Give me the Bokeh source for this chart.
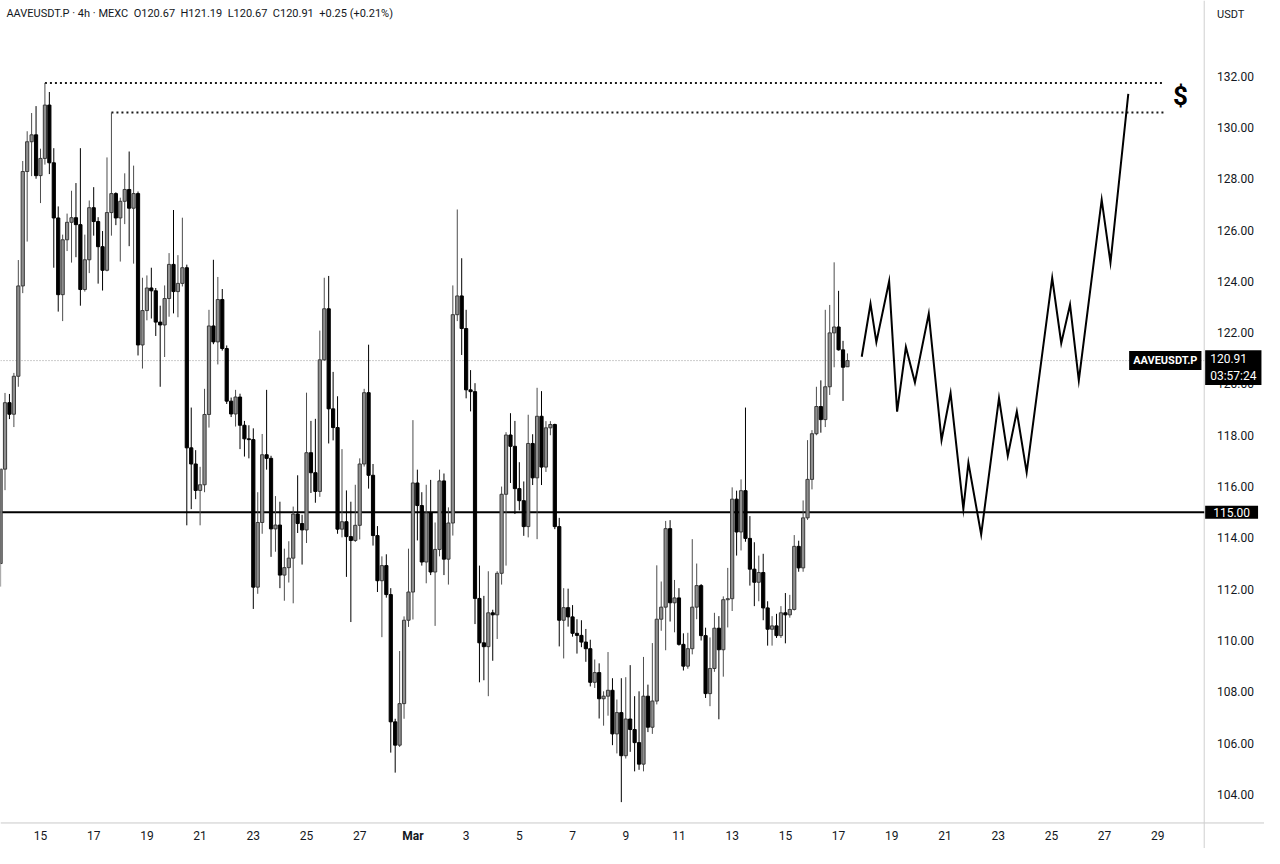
from bokeh.plotting import figure
from bokeh.models import Range1d, Label, ColumnDataSource
from bokeh.core.properties import value
from bokeh.embed import file_html
from bokeh.resources import INLINE

FONT = "Roboto"

# ---------------- data (AAVEUSDT.P, 4h candles) ----------------
opens = [113.0, 116.68, 119.27, 118.82, 120.3, 123.82, 128.28, 129.44, 129.71, 128.12,
         128.79, 130.87, 128.62, 126.47, 123.48, 125.62, 126.3, 126.48, 126.21, 123.68,
         124.84, 126.87, 126.33, 125.35, 124.43, 126.68, 127.42, 126.47, 127.12, 127.58,
         126.85, 127.42, 121.52, 122.86, 123.74, 123.63, 122.41, 122.3, 123.33, 124.66,
         123.6, 123.92, 124.53, 117.51, 116.88, 115.85, 116.07, 118.81, 122.26, 121.64,
         123.29, 121.38, 119.33, 118.83, 119.49, 118.39, 117.86, 117.83, 112.08, 114.6,
         117.24, 117.1, 114.35, 114.5, 112.55, 112.84, 113.21, 114.93, 114.56, 114.31,
         117.32, 116.54, 115.81, 120.94, 122.93, 119.03, 118.3, 114.34, 114.63, 114.05,
         113.9, 114.49, 116.88, 119.66, 116.44, 114.09, 112.33, 112.92, 111.79, 106.83,
         105.92, 107.54, 110.79, 111.89, 116.14, 115.26, 113.06, 114.97, 112.67, 113.55,
         116.22, 113.17, 114.58, 122.7, 123.43, 122.16, 119.77, 119.7, 111.64, 109.91,
         109.76, 111.08, 111.0, 112.62, 115.7, 118.01, 117.57, 115.92, 115.45, 114.44,
         117.68, 116.34, 118.74, 116.76, 118.29, 118.42, 114.44, 110.79, 111.28, 110.92,
         110.28, 110.2, 109.94, 109.68, 108.37, 108.75, 107.73, 107.83, 108.06, 106.36,
         107.19, 105.51, 106.94, 106.53, 106.02, 105.18, 107.83, 106.62, 107.64, 110.83,
         111.3, 114.36, 111.47, 111.66, 109.85, 109.0, 109.68, 111.3, 112.14, 110.19,
         107.93, 108.91, 110.48, 109.64, 111.59, 111.63, 115.51, 114.23, 115.84, 113.98,
         112.78, 112.27, 112.65, 111.27, 110.44, 110.57, 110.19, 111.08, 111.0, 111.21,
         113.67, 112.83, 114.78, 116.28, 118.06, 119.12, 118.61, 119.89, 121.99, 122.22,
         121.33, 120.67]
highs = [116.7, 119.65, 119.61, 120.43, 124.83, 128.69, 129.85, 130.56, 130.83, 129.17,
         131.73, 131.38, 129.19, 126.92, 125.82, 126.64, 127.53, 127.83, 129.19, 125.82,
         127.15, 127.67, 126.5, 125.96, 128.83, 130.58, 127.47, 127.26, 128.21, 129.06,
         128.51, 127.5, 124.14, 124.23, 124.53, 123.74, 123.05, 123.84, 125.1, 126.78,
         125.02, 126.48, 124.65, 119.08, 117.42, 116.77, 119.81, 122.89, 124.84, 124.17,
         123.7, 121.5, 119.47, 119.77, 119.62, 118.56, 118.39, 118.27, 115.78, 118.05,
         119.77, 117.2, 115.63, 115.41, 113.58, 113.87, 115.22, 116.44, 114.9, 119.66,
         118.56, 118.64, 122.08, 124.14, 124.21, 120.47, 119.52, 117.46, 115.85, 115.41,
         116.07, 117.1, 119.81, 121.53, 116.88, 114.46, 113.28, 113.36, 112.04, 106.95,
         109.59, 110.94, 113.58, 118.59, 116.66, 115.78, 116.07, 116.26, 114.6, 116.66,
         116.51, 115.19, 123.84, 126.8, 124.9, 122.89, 120.54, 120.03, 112.92, 111.74,
         112.7, 111.2, 112.7, 116.0, 118.12, 118.86, 118.56, 116.95, 116.2, 118.8,
         118.04, 119.85, 119.72, 118.55, 118.55, 118.45, 114.78, 112.04, 112.02, 111.38,
         110.83, 110.79, 110.45, 110.03, 109.26, 109.11, 108.02, 109.55, 108.53, 107.7,
         108.53, 108.57, 109.04, 107.83, 108.02, 109.36, 108.28, 109.9, 112.93, 112.3,
         114.66, 114.69, 112.36, 112.04, 110.28, 110.3, 113.95, 113.0, 112.2, 110.5,
         110.12, 111.08, 110.95, 111.72, 112.83, 115.97, 115.84, 116.28, 119.08, 114.85,
         113.83, 113.31, 113.38, 111.53, 110.95, 111.04, 111.34, 111.85, 111.78, 114.11,
         113.89, 115.46, 117.81, 118.2, 119.89, 120.14, 122.89, 123.08, 124.74, 123.63,
         121.68, 121.19]
lows = [112.1, 115.86, 118.63, 118.32, 119.89, 123.54, 125.55, 128.1, 128.0, 127.05,
        128.55, 128.18, 124.53, 122.82, 122.45, 125.18, 124.73, 124.94, 123.05, 123.6,
        124.32, 125.78, 123.91, 123.64, 124.39, 125.78, 126.19, 124.77, 126.23, 125.37,
        124.69, 121.11, 120.6, 122.48, 122.55, 121.87, 119.89, 121.05, 122.62, 122.75,
        122.6, 123.8, 114.49, 115.12, 115.51, 114.49, 115.78, 118.3, 121.55, 120.76,
        121.3, 119.22, 118.71, 118.34, 117.46, 117.17, 117.1, 111.23, 111.82, 114.16,
        116.66, 113.26, 113.46, 112.04, 111.55, 112.26, 111.45, 114.19, 112.96, 113.8,
        115.75, 115.37, 115.6, 120.9, 117.68, 117.8, 114.16, 114.02, 112.48, 110.72,
        113.84, 113.94, 116.78, 115.92, 113.7, 111.89, 110.13, 111.67, 105.63, 104.85,
        105.85, 106.95, 110.53, 110.82, 113.9, 112.92, 112.23, 112.55, 110.57, 113.28,
        112.55, 112.18, 114.09, 122.45, 121.13, 119.44, 118.93, 110.64, 108.37, 108.45,
        107.83, 109.21, 110.06, 112.18, 112.92, 116.14, 114.93, 115.07, 114.08, 114.02,
        116.06, 113.95, 116.06, 116.57, 118.0, 114.34, 109.77, 109.3, 110.54, 110.15,
        109.49, 109.74, 109.17, 108.21, 108.15, 106.96, 106.68, 107.07, 105.92, 105.6,
        103.7, 105.4, 105.66, 104.9, 104.96, 104.9, 106.43, 106.36, 107.51, 110.38,
        109.62, 110.74, 110.32, 109.8, 108.83, 108.9, 109.46, 110.83, 110.0, 107.76,
        107.44, 108.78, 106.93, 108.59, 110.51, 111.15, 113.31, 113.51, 113.85, 112.14,
        111.34, 111.53, 110.79, 109.8, 109.8, 110.1, 110.1, 109.89, 110.89, 111.17,
        112.68, 112.68, 114.7, 115.89, 118.0, 118.1, 118.32, 119.57, 120.65, 121.3,
        119.34, 120.67]
closes = [116.68, 119.27, 118.82, 120.3, 123.82, 128.28, 129.44, 129.71, 128.12, 128.79,
          130.87, 128.62, 126.47, 123.48, 125.62, 126.3, 126.48, 126.21, 123.68, 124.84,
          126.87, 126.33, 125.35, 124.43, 126.68, 127.42, 126.47, 127.12, 127.58, 126.85,
          127.42, 121.52, 122.86, 123.74, 123.63, 122.41, 122.3, 123.33, 124.66, 123.6,
          123.92, 124.53, 117.51, 116.88, 115.85, 116.07, 118.81, 122.26, 121.64, 123.29,
          121.38, 119.33, 118.83, 119.49, 118.39, 117.86, 117.83, 112.08, 114.6, 117.24,
          117.1, 114.35, 114.5, 112.55, 112.84, 113.21, 114.93, 114.56, 114.31, 117.32,
          116.54, 115.81, 120.94, 122.93, 119.03, 118.3, 114.34, 114.63, 114.05, 113.9,
          114.49, 116.88, 119.66, 116.44, 114.09, 112.33, 112.92, 111.79, 106.83, 105.92,
          107.54, 110.79, 111.89, 116.14, 115.26, 113.06, 114.97, 112.67, 113.55, 116.22,
          113.17, 114.58, 122.7, 123.43, 122.16, 119.77, 119.7, 111.64, 109.91, 109.76,
          111.08, 111.0, 112.62, 115.7, 118.01, 117.57, 115.92, 115.45, 114.44, 117.68,
          116.34, 118.74, 116.76, 118.29, 118.42, 114.44, 110.79, 111.28, 110.92, 110.28,
          110.2, 109.94, 109.68, 108.37, 108.75, 107.73, 107.83, 108.06, 106.36, 107.19,
          105.51, 106.94, 106.53, 106.02, 105.18, 107.83, 106.62, 107.64, 110.83, 111.3,
          114.36, 111.47, 111.66, 109.85, 109.0, 109.68, 111.3, 112.14, 110.19, 107.93,
          108.91, 110.48, 109.64, 111.59, 111.63, 115.51, 114.23, 115.84, 113.98, 112.78,
          112.27, 112.65, 111.27, 110.44, 110.57, 110.19, 111.08, 111.0, 111.21, 113.67,
          112.83, 114.78, 116.28, 118.06, 119.12, 118.61, 119.89, 121.99, 122.22, 121.33,
          120.65, 120.91]

# time axis in "day of Feb" units (Mar 1 = 29); first candle Feb 13 12:00, one per 4h
first_candle_day = 13.5
candle_days = [first_candle_day + i / 6 for i in range(len(opens))]

# dotted resistance levels (start at the swing-high candle, end near the "$" mark)
resist_levels = [131.73, 130.58]
resist_start_days = [15.167, 17.667]
resist_end_days = [57.19, 57.30]

support_level = 115.0
last_price = 120.91
last_countdown = "03:57:24"

# hand-drawn projection path
proj_days = [45.87, 46.20, 46.42, 46.90, 47.20, 47.53, 47.87, 48.39, 48.87, 49.21, 49.69, 49.88,
             50.36, 51.03, 51.36, 51.70, 52.07, 53.03, 53.37, 53.70, 54.03, 54.89, 55.22, 55.89]
proj_prices = [121.06, 123.12, 121.63, 124.00, 118.92, 121.44, 120.06, 122.74, 117.81, 119.64,
               115.13, 116.93, 114.13, 119.45, 117.20, 118.92, 116.55, 124.13, 121.59, 123.09,
               120.14, 127.18, 124.73, 131.31]

tick_days = [15, 17, 19, 21, 23, 25, 27, 29, 31, 33, 35, 37, 39, 41, 43, 45, 47, 49, 51, 53, 55, 57]
tick_labels = ["15", "17", "19", "21", "23", "25", "27", "Mar", "3", "5", "7", "9", "11", "13",
               "15", "17", "19", "21", "23", "25", "27", "29"]
month_tick_labels = ["Mar"]
price_ticks = [104, 106, 108, 110, 112, 114, 116, 118, 120, 122, 124, 126, 128, 130, 132]

# ---------------- view layout (both scales drawn inside the frame) ----------------
x_start, x_end = 13.497, 61.01      # visible time span (days)
y_start, y_end = 101.893, 134.946   # visible price span (incl. time-scale strip)
scale_edge = 58.744                 # where the price-scale column begins
scale_text_x = 59.226               # left edge of price-scale texts
time_axis_y = 102.888               # time-scale line
time_text_y = 102.39                # time-scale labels

p = figure(frame_width=1264, frame_height=848,
           x_range=Range1d(x_start, x_end), y_range=Range1d(y_start, y_end),
           output_backend="svg", toolbar_location=None,
           x_axis_location=None, y_axis_location=None,
           min_border_left=0, min_border_top=0, min_border_right=0, min_border_bottom=0)
p.xgrid.visible = False
p.ygrid.visible = False
p.outline_line_color = None
p.background_fill_color = "white"
p.border_fill_color = "white"

# time-scale line and labels
p.segment(x0=[x_start], y0=[time_axis_y], x1=[x_end], y1=[time_axis_y],
          line_color="#c9c9c9", line_width=1)
plain = [(d, t) for d, t in zip(tick_days, tick_labels) if t not in month_tick_labels]
bold = [(d, t) for d, t in zip(tick_days, tick_labels) if t in month_tick_labels]
p.text(x=[d for d, _ in plain], y=[time_text_y] * len(plain), text=[t for _, t in plain],
       text_font=value(FONT), text_font_size="12px", text_color="#131722",
       text_align="center", text_baseline="middle")
p.text(x=[d for d, _ in bold], y=[time_text_y] * len(bold), text=[t for _, t in bold],
       text_font=value(FONT), text_font_size="12px", text_font_style="bold", text_color="#131722",
       text_align="center", text_baseline="middle")

# price-scale separator and labels
p.segment(x0=[scale_edge], y0=[y_start], x1=[scale_edge], y1=[y_end],
          line_color="#cfcfcf", line_width=1)
p.text(x=[scale_text_x] * len(price_ticks), y=price_ticks,
       text=["%.2f" % v for v in price_ticks],
       text_font=value(FONT), text_font_size="12px", text_color="#131722",
       text_align="left", text_baseline="middle")
p.text(x=[scale_text_x], y=[134.41], text=["USDT"],
       text_font=value(FONT), text_font_size="11px", text_color="#131722",
       text_align="left", text_baseline="middle")

# current price dotted line and support line
p.segment(x0=[x_start], y0=[last_price], x1=[scale_edge], y1=[last_price],
          line_color="#9a9a9a", line_width=1, line_dash="1 2")
p.segment(x0=[x_start], y0=[support_level], x1=[scale_edge], y1=[support_level],
          line_color="#000000", line_width=2)

# resistance dotted lines
p.segment(x0=resist_start_days, y0=resist_levels, x1=resist_end_days, y1=resist_levels,
          line_color="#1a1a1a", line_width=2, line_dash="2 3")

# candles
up = dict(x=[], o=[], h=[], l=[], c=[], top=[], bot=[])
dn = dict(x=[], o=[], h=[], l=[], c=[], top=[], bot=[])
for d, o, h, l, c in zip(candle_days, opens, highs, lows, closes):
    s = up if c >= o else dn
    s["x"].append(d); s["o"].append(o); s["h"].append(h); s["l"].append(l); s["c"].append(c)
    s["top"].append(max(o, c)); s["bot"].append(min(o, c))
src_up = ColumnDataSource(up)
src_dn = ColumnDataSource(dn)

p.segment(x0="x", y0="l", x1="x", y1="h", source=src_up, line_color="#4d4d4d", line_width=1)
p.segment(x0="x", y0="l", x1="x", y1="h", source=src_dn, line_color="#000000", line_width=1)
p.vbar(x="x", width=0.12, top="top", bottom="bot", source=src_up,
       fill_color="#8f8f8f", line_color="#3a3a3a", line_width=1)
p.vbar(x="x", width=0.12, top="top", bottom="bot", source=src_dn,
       fill_color="#000000", line_color="#000000", line_width=1)

# projection path
p.line(proj_days, proj_prices, line_color="#000000", line_width=2, line_join="miter")

# ---------------- texts ----------------
NB = "\u00a0\u00a0"
header = ("AAVEUSDT.P · 4h · MEXC" + NB + "O120.67" + NB + "H121.19" + NB + "L120.67" + NB
          + "C120.91" + NB + "+0.25 (+0.21%)")
p.add_layout(Label(x=13.72, y=134.448, text=header,
                   text_font=FONT, text_font_size="11px", text_color="#131722",
                   text_align="left", text_baseline="middle"))
p.add_layout(Label(x=57.855, y=131.235, text="$", text_font=FONT, text_font_size="26px",
                   text_font_style="bold", text_color="#000000",
                   text_align="center", text_baseline="middle"))

# price badges
p.add_layout(Label(x=58.64, y=last_price, text="AAVEUSDT.P", text_font=FONT, text_font_size="11px",
                   text_font_style="bold", text_color="white", background_fill_color="black",
                   text_align="right", text_baseline="middle", padding=(4, 3)))
p.add_layout(Label(x=58.78, y=120.64, text="%.2f\n%s" % (last_price, last_countdown),
                   text_font=FONT, text_font_size="12px",
                   text_color="white", background_fill_color="black",
                   text_align="left", text_baseline="middle", padding=(5, 2)))
p.add_layout(Label(x=58.78, y=support_level, text="%.2f" % support_level,
                   text_font=FONT, text_font_size="12px",
                   text_color="white", background_fill_color="black",
                   text_align="left", text_baseline="middle", padding=(8, 2)))

open("out.html", "w").write(file_html(p, INLINE))
